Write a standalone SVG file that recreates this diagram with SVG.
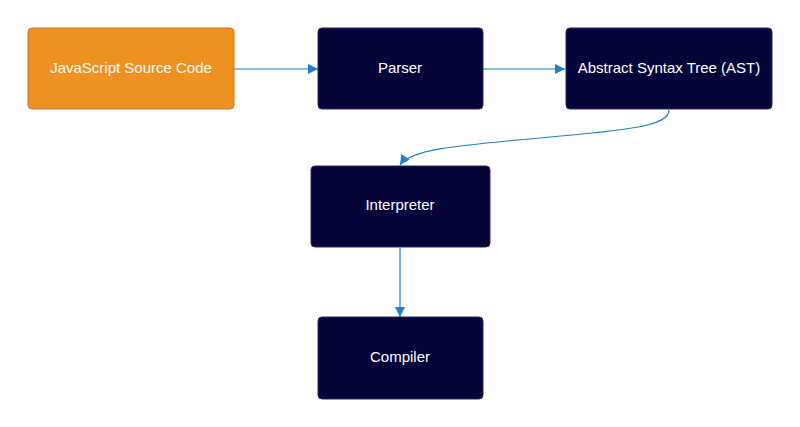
<svg xmlns="http://www.w3.org/2000/svg" width="800" height="427" viewBox="0 0 800 427">
<defs>
<style>
.node{fill:#05053a;stroke:#2a2a55;stroke-width:1}
.src{fill:#ef9121;stroke:#c77a20;stroke-width:1}
.lbl{font-family:"Liberation Sans",Arial,sans-serif;font-size:15px;fill:#ffffff;text-anchor:middle;dominant-baseline:central}
.edge{fill:none;stroke:#1f80c4;stroke-width:1.2}
</style>
<marker id="arr" viewBox="0 0 10 10" refX="10" refY="5" markerWidth="10" markerHeight="10" markerUnits="userSpaceOnUse" orient="auto">
<path d="M0,0 L10,5 L0,10 z" fill="#1f80c4"/>
</marker>
</defs>
<rect width="800" height="427" fill="#ffffff"/>
<g id="connectors">
<path class="edge" d="M234,69 L318,69" marker-end="url(#arr)"/>
<path class="edge" d="M483,69 L565,69" marker-end="url(#arr)"/>
<path class="edge" d="M669,110 C669,126 630,130 540,138 C450,146 410,150 400,165" marker-end="url(#arr)"/>
<path class="edge" d="M400,248 L400,317" marker-end="url(#arr)"/>
</g>
<g id="node-js">
<rect class="src" x="28" y="28" width="206" height="81" rx="4"/>
<text class="lbl" x="131" y="67">JavaScript Source Code</text>
</g>
<g id="node-parser">
<rect class="node" x="318" y="28" width="165" height="81" rx="4"/>
<text class="lbl" x="400" y="67">Parser</text>
</g>
<g id="node-ast">
<rect class="node" x="566" y="28" width="206" height="81" rx="4"/>
<text class="lbl" x="669" y="67">Abstract Syntax Tree (AST)</text>
</g>
<g id="node-interpreter">
<rect class="node" x="311" y="166" width="179" height="81" rx="4"/>
<text class="lbl" x="400" y="204.5">Interpreter</text>
</g>
<g id="node-compiler">
<rect class="node" x="318" y="317" width="165" height="82" rx="4"/>
<text class="lbl" x="400" y="356">Compiler</text>
</g>
</svg>
